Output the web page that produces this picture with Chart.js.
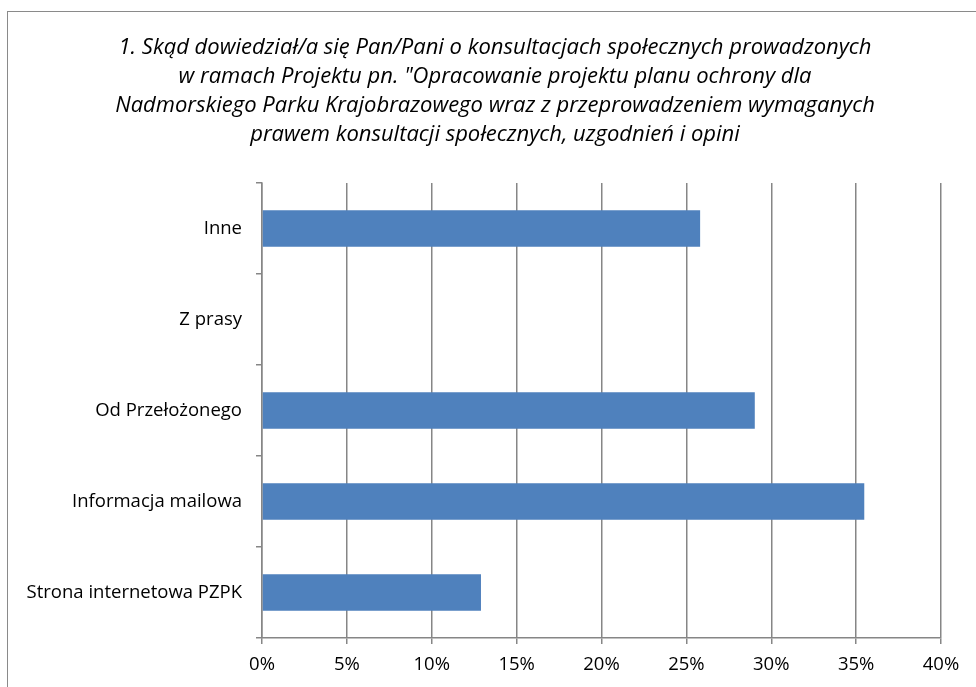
<!DOCTYPE html>
<html>
<head>
<meta charset="utf-8">
<script src="https://cdn.jsdelivr.net/npm/chart.js@4"></script>
<style>
  html, body { margin: 0; padding: 0; width: 976px; height: 687px; overflow: hidden; background: #fff; }
  #frame { position: absolute; left: 7px; top: 11px; width: 2000px; height: 2000px; border: 1px solid #8a8a8a; box-sizing: border-box; }
  #c { position: absolute; left: 0; top: 0; }
</style>
</head>
<body>
<div id="frame"></div>
<canvas id="c" width="976" height="687"></canvas>
<script>
const titleLines = [
  '1. Skąd dowiedział/a się Pan/Pani o konsultacjach społecznych prowadzonych',
  'w ramach Projektu pn. "Opracowanie projektu planu ochrony dla',
  'Nadmorskiego Parku Krajobrazowego wraz z przeprowadzeniem wymaganych',
  'prawem konsultacji społecznych, uzgodnień i opini'
];
const categories = ['Inne', 'Z prasy', 'Od Przełożonego', 'Informacja mailowa', 'Strona internetowa PZPK'];
const values = [25.81, 0, 29.03, 35.48, 12.90];
const xTicks = [0, 5, 10, 15, 20, 25, 30, 35, 40];

const FONT = '"Open Sans", Lato, sans-serif';
const GRID = '#868686';

// Title drawn as canvas text, centred on the chart frame
const frameTitle = {
  id: 'frameTitle',
  afterDraw(chart) {
    const ctx = chart.ctx;
    ctx.save();
    ctx.font = 'italic 22px ' + FONT;
    ctx.fillStyle = '#000';
    ctx.textAlign = 'center';
    ctx.textBaseline = 'middle';
    titleLines.forEach((line, i) => ctx.fillText(line, 495, 47.5 + i * 29));
    ctx.restore();
  }
};

new Chart(document.getElementById('c'), {
  type: 'bar',
  data: {
    labels: categories,
    datasets: [{
      data: values,
      backgroundColor: '#4F81BD',
      borderWidth: 0,
      barPercentage: 0.4,
      categoryPercentage: 1.0
    }]
  },
  options: {
    indexAxis: 'y',
    responsive: false,
    animation: false,
    layout: { padding: { left: 0, right: 35, top: 183, bottom: 0 } },
    plugins: {
      legend: { display: false },
      tooltip: { enabled: false },
      title: { display: false }
    },
    scales: {
      x: {
        min: 0, max: 40,
        afterBuildTicks: (s) => { s.ticks = xTicks.map(v => ({ value: v })); },
        afterFit: (s) => { s.height = 49; },
        ticks: {
          color: '#000',
          font: { family: FONT, size: 18.5 },
          padding: 10,
          maxRotation: 0,
          callback: (v) => v + '%'
        },
        grid: { color: GRID, lineWidth: 1.5, tickLength: 6, drawTicks: true },
        border: { color: GRID, width: 1.5 }
      },
      y: {
        afterFit: (s) => { s.width = 262; },
        ticks: {
          color: '#000',
          font: { family: FONT, size: 18.5 },
          padding: 14
        },
        grid: { drawOnChartArea: false, color: GRID, lineWidth: 1.5, tickLength: 6, offset: true },
        border: { color: GRID, width: 1.5 }
      }
    }
  },
  plugins: [frameTitle]
});
</script>
</body>
</html>
